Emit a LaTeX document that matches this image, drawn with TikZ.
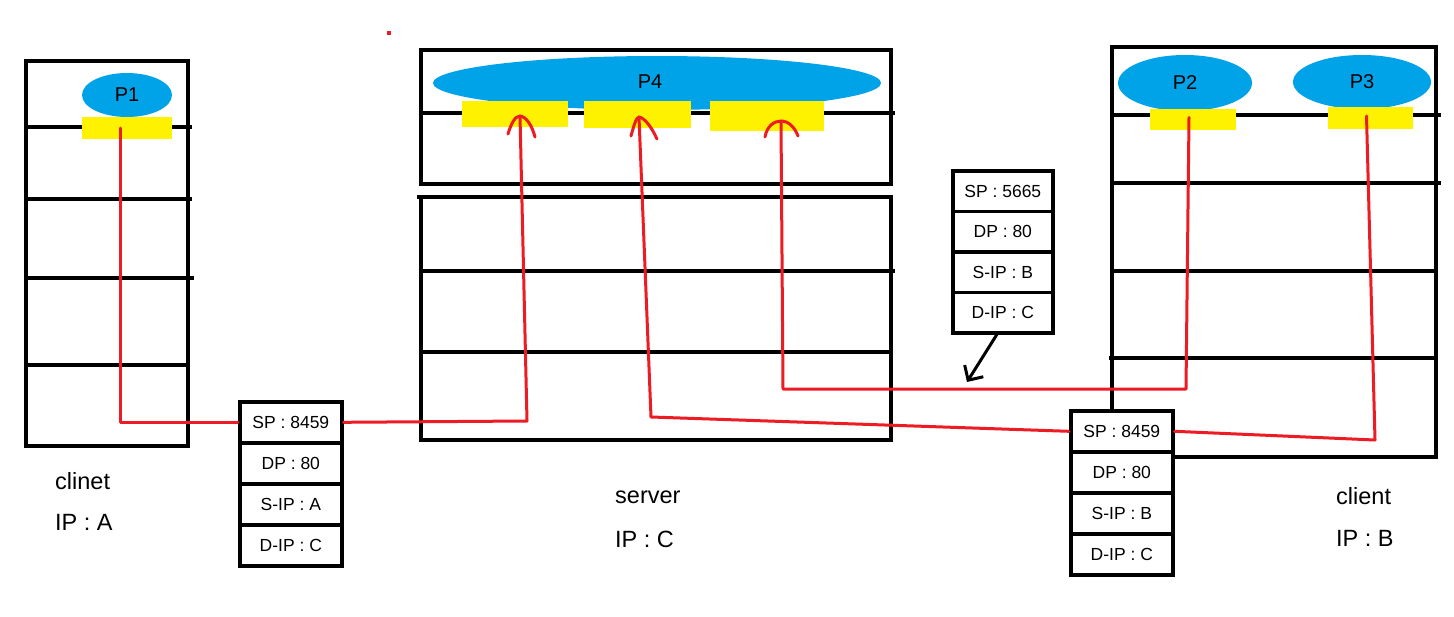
\documentclass[tikz,border=0pt]{standalone}
\usepackage{fontspec}
\setmainfont{Liberation Sans}
\usetikzlibrary{shapes.geometric,arrows.meta}
\definecolor{procblue}{HTML}{00A2E8}
\definecolor{portyellow}{HTML}{FFF200}
\definecolor{wirered}{HTML}{ED1C24}
\begin{document}
\begin{tikzpicture}[x=1pt,y=-1pt,
 layer/.style={line width=3.6pt},
 proc/.style={ellipse,fill=procblue,inner sep=0pt,font=\fontsize{20}{20}\selectfont},
 port/.style={fill=portyellow,inner sep=0pt},
 pkt/.style={draw,line width=3.6pt,fill=white,minimum width=102pt,minimum height=41pt,inner sep=0pt,anchor=north west,font=\fontsize{17.5}{17.5}\selectfont},
 wire/.style={draw=wirered,line width=3pt,line join=round,line cap=round},
 lbl/.style={anchor=west,inner sep=0pt,font=\fontsize{23.5}{23.5}\selectfont}
]
\useasboundingbox (0,0) rectangle (1454,616);
\fill[white] (0,0) rectangle (1454,616);
% left client stack
\draw[layer] (26,61) rectangle (188,446);
\draw[layer] (26,127) -- (192,127);
\draw[layer] (26,199) -- (192,199);
\draw[layer] (24,278) -- (194,278);
\draw[layer] (26,365) -- (190,365);
% server stack
\draw[layer] (421,50) rectangle (891,184);
\draw[layer] (421,113) -- (895,113);
\draw[layer] (421,197) rectangle (891,440);
\draw[layer] (417,197) -- (421,197);
\draw[layer] (421,271) -- (895,271);
\draw[layer] (421,352) -- (891,352);
% right client stack
\draw[layer] (1112,47) rectangle (1436,457);
\draw[layer] (1112,115) -- (1441,115);
\draw[layer] (1112,183) -- (1441,183);
\draw[layer] (1112,271) -- (1436,271);
\draw[layer] (1109,358) -- (1436,358);
% processes
\node[proc,minimum width=90pt,minimum height=44pt] (p1) at (127,95) {P1};
\node[proc,minimum width=448pt,minimum height=54pt] (p4) at (657,83) {};
\node[font=\fontsize{20}{20}\selectfont,inner sep=0pt] (p4t) at (650,82) {P4};
\node[proc,minimum width=134pt,minimum height=56pt] (p2) at (1185,83) {P2};
\node[proc,minimum width=138pt,minimum height=54pt] (p3) at (1362,82) {P3};
% ports
\node[port,minimum width=90pt,minimum height=22pt] (p1port) at (127,128) {};
\node[port,minimum width=106pt,minimum height=26pt] (s1) at (515,114) {};
\node[port,minimum width=107pt,minimum height=27pt] (s2) at (637.5,114.5) {};
\node[port,minimum width=114pt,minimum height=30pt] (s3) at (767,116) {};
\node[port,minimum width=86pt,minimum height=21pt] (p2port) at (1193,119.5) {};
\node[port,minimum width=85pt,minimum height=22pt] (p3port) at (1370.5,118) {};
% packets
\node[pkt] (pk1sp) at (238,400) {SP : 8459};
\node[pkt] (pk1dp) at (238,441) {DP : 80};
\node[pkt] (pk1s) at (238,482) {S-IP : A};
\node[pkt] (pk1d) at (238,523) {D-IP : C};
\node[pkt,minimum width=100pt,minimum height=40.5pt] (pk2sp) at (951,169) {SP : 5665};
\node[pkt,minimum width=100pt,minimum height=40.5pt] (pk2dp) at (951,209.5) {DP : 80};
\node[pkt,minimum width=100pt,minimum height=40.5pt] (pk2s) at (951,250) {S-IP : B};
\node[pkt,minimum width=100pt,minimum height=40.5pt] (pk2d) at (951,290.5) {D-IP : C};
\node[pkt] (pk3sp) at (1069,409) {SP : 8459};
\node[pkt] (pk3dp) at (1069,450) {DP : 80};
\node[pkt] (pk3s) at (1069,491) {S-IP : B};
\node[pkt] (pk3d) at (1069,532) {D-IP : C};
% corner coordinates
\coordinate (t1) at (520,116);
\coordinate (t2) at (639,117);
\coordinate (t3) at (781,121);
\coordinate (c1) at (527,421);
\coordinate (c2) at (651,417);
\coordinate (c3a) at (1186,389);
\coordinate (c3b) at (783,389);
\coordinate (c4) at (1375,440);
\coordinate (bt) at (967,382);
% red connectors
\draw[wire] ([xshift=-7pt]p1port.center) |- (pk1sp.west);
\draw[wire] (pk1sp.east) -- (c1) -- (t1);
\draw[wire] (pk3sp.west) -- (c2) -- (t2);
\draw[wire] ([xshift=-4pt,yshift=2pt]p2port.center) -- (c3a) -- (c3b) -- (t3);
\draw[wire] ([xshift=-4pt,yshift=2pt]p3port.center) -- (c4) -- (pk3sp.east);
% hand-drawn arrowheads
\draw[wire] (508,134) .. controls (511,124) and (515,116) .. (t1) .. controls (527,117) and (532,126) .. (535,137);
\draw[wire] (631,136) .. controls (634,125) and (636,118) .. (t2) .. controls (645,118) and (652,128) .. (657,139);
\draw[wire] (765,137) .. controls (767,126) and (774,121) .. (t3) .. controls (789,121) and (795,128) .. (798,136);
% black pointer
\draw[line width=3pt,line cap=round,-{Straight Barb[length=11pt,width=22pt]}] ([xshift=-6pt]pk2d.south) -- (bt);
% labels
\node[lbl] (la1) at (55,481) {clinet};
\node[lbl] (la2) at (55,522) {IP : A};
\node[lbl] (ls1) at (615,497) {server};
\node[lbl] (ls2) at (615,539) {IP : C};
\node[lbl] (lb1) at (1336,496) {client};
\node[lbl] (lb2) at (1336,538) {IP : B};
% stray mark
\fill[wirered] (387,31) rectangle (391,35);
\end{tikzpicture}
\end{document}
